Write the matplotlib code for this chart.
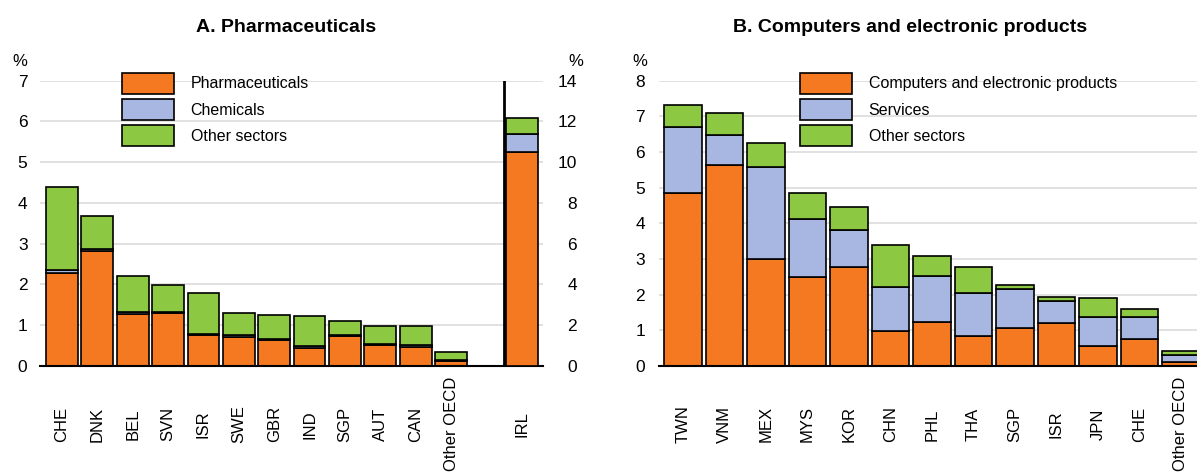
import numpy as np
import matplotlib
matplotlib.use("Agg")
import matplotlib.pyplot as plt

plt.rcParams["font.family"] = ["Liberation Sans", "DejaVu Sans"]

# Panel A: pharmaceuticals
pharma_countries = ["CHE", "DNK", "BEL", "SVN", "ISR", "SWE", "GBR", "IND", "SGP", "AUT", "CAN", "Other OECD"]
pharma_main = [2.29, 2.81, 1.28, 1.29, 0.75, 0.72, 0.64, 0.43, 0.74, 0.52, 0.47, 0.12]
pharma_chem = [0.06, 0.06, 0.05, 0.03, 0.03, 0.03, 0.03, 0.07, 0.02, 0.02, 0.05, 0.03]
pharma_other = [2.03, 0.81, 0.89, 0.67, 1.00, 0.56, 0.59, 0.73, 0.34, 0.45, 0.46, 0.20]
irl_label = "IRL"
irl_main = 10.49
irl_chem = 0.89
irl_other = 0.80

# Panel B: computers and electronic products
comp_countries = ["TWN", "VNM", "MEX", "MYS", "KOR", "CHN", "PHL", "THA", "SGP", "ISR", "JPN", "CHE", "Other OECD"]
comp_main = [4.84, 5.65, 3.00, 2.50, 2.78, 0.99, 1.24, 0.84, 1.07, 1.21, 0.56, 0.77, 0.10]
comp_serv = [1.85, 0.84, 2.57, 1.61, 1.04, 1.22, 1.28, 1.20, 1.10, 0.61, 0.81, 0.60, 0.20]
comp_other = [0.62, 0.60, 0.67, 0.73, 0.63, 1.17, 0.56, 0.74, 0.11, 0.11, 0.54, 0.23, 0.13]

legend_a = ["Pharmaceuticals", "Chemicals", "Other sectors"]
legend_b = ["Computers and electronic products", "Services", "Other sectors"]

ORANGE = "#F47920"
BLUE = "#A7B7E1"
GREEN = "#8CC841"
colors = [ORANGE, BLUE, GREEN]
GRID = "#DCDCDC"

W, H = 1197, 476
fig = plt.figure(figsize=(W / 100, H / 100), dpi=100)


def fx(px):
    return px / W


def fy(py):
    return 1 - py / H


def style_axis(ax, ymax, pad):
    ax.set_ylim(0, ymax)
    ax.set_yticks(np.arange(0, ymax + 1))
    ax.grid(axis="y", color=GRID, linewidth=1.2)
    ax.set_axisbelow(True)
    for s in ["left", "right", "top"]:
        ax.spines[s].set_visible(False)
    ax.spines["bottom"].set_linewidth(1.5)
    ax.tick_params(axis="y", length=0, labelsize=12.5, pad=pad)
    ax.tick_params(axis="x", length=0, labelsize=12, pad=42)
    for lbl in ax.get_xticklabels():
        lbl.set_rotation(90)
        lbl.set_va("center")
        lbl.set_ha("center")


def stack(ax, x, layers, labels):
    bottom = np.zeros(len(x))
    handles = []
    for vals, col, lab in zip(layers, colors, labels):
        h = ax.bar(x, vals, bottom=bottom, width=0.9, color=col,
                   edgecolor="black", linewidth=1.2, label=lab)
        bottom = bottom + np.array(vals)
        handles.append(h)
    return handles


def add_legend(ax, handles, labels, x0, y0):
    fig.legend(handles, labels, loc="upper left",
               bbox_to_anchor=(fx(x0), fy(y0)), frameon=False,
               fontsize=11.5, handlelength=3.25, handleheight=1.6,
               labelspacing=0.35, handletextpad=1.05, borderpad=0,
               borderaxespad=0)


# ---- Panel A ----
axA = fig.add_axes([fx(40), fy(366), fx(543) - fx(40), fy(80.7) - fy(366)])
xa = np.arange(len(pharma_countries))
hA = stack(axA, xa, [pharma_main, pharma_chem, pharma_other], legend_a)
axA.set_xlim(-0.62, 13.6)
irl_x = len(pharma_countries) + 1
axA.set_xticks(list(xa) + [irl_x])
axA.set_xticklabels(pharma_countries + [irl_label])
style_axis(axA, 7, 9)
axA.axvline(len(pharma_countries) + 0.5, color="black", linewidth=2)

axA2 = axA.twinx()
axA2.set_ylim(0, 14)
axA2.set_yticks(np.arange(0, 15, 2))
for s in ["left", "right", "top", "bottom"]:
    axA2.spines[s].set_visible(False)
axA2.tick_params(axis="y", length=0, labelsize=12.5, pad=24.5)
for lbl in axA2.get_yticklabels():
    lbl.set_ha("right")
bottom = 0
for val, col in zip([irl_main, irl_chem, irl_other], colors):
    axA2.bar(irl_x, val, bottom=bottom, width=0.9, color=col,
             edgecolor="black", linewidth=1.2)
    bottom += val

add_legend(axA, hA, legend_a, 122, 73)
fig.text(fx(20), fy(62), "%", fontsize=12, ha="center", va="center")
fig.text(fx(576), fy(62), "%", fontsize=12, ha="center", va="center")
fig.text(fx(286.5), fy(32), "A. Pharmaceuticals", fontsize=14,
         fontweight="bold", ha="center", va="baseline")

# ---- Panel B ----
axB = fig.add_axes([fx(659), fy(366), 1 - fx(659), fy(80.7) - fy(366)])
xb = np.arange(len(comp_countries))
hB = stack(axB, xb, [comp_main, comp_serv, comp_other], legend_b)
axB.set_xlim(-0.58, 12.39)
axB.set_xticks(xb)
axB.set_xticklabels(comp_countries)
style_axis(axB, 8, 10)

add_legend(axB, hB, legend_b, 800, 73)
fig.text(fx(640), fy(62), "%", fontsize=12, ha="center", va="center")
fig.text(fx(910), fy(32), "B. Computers and electronic products", fontsize=14,
         fontweight="bold", ha="center", va="baseline")

fig.savefig("out.png", dpi=100)
